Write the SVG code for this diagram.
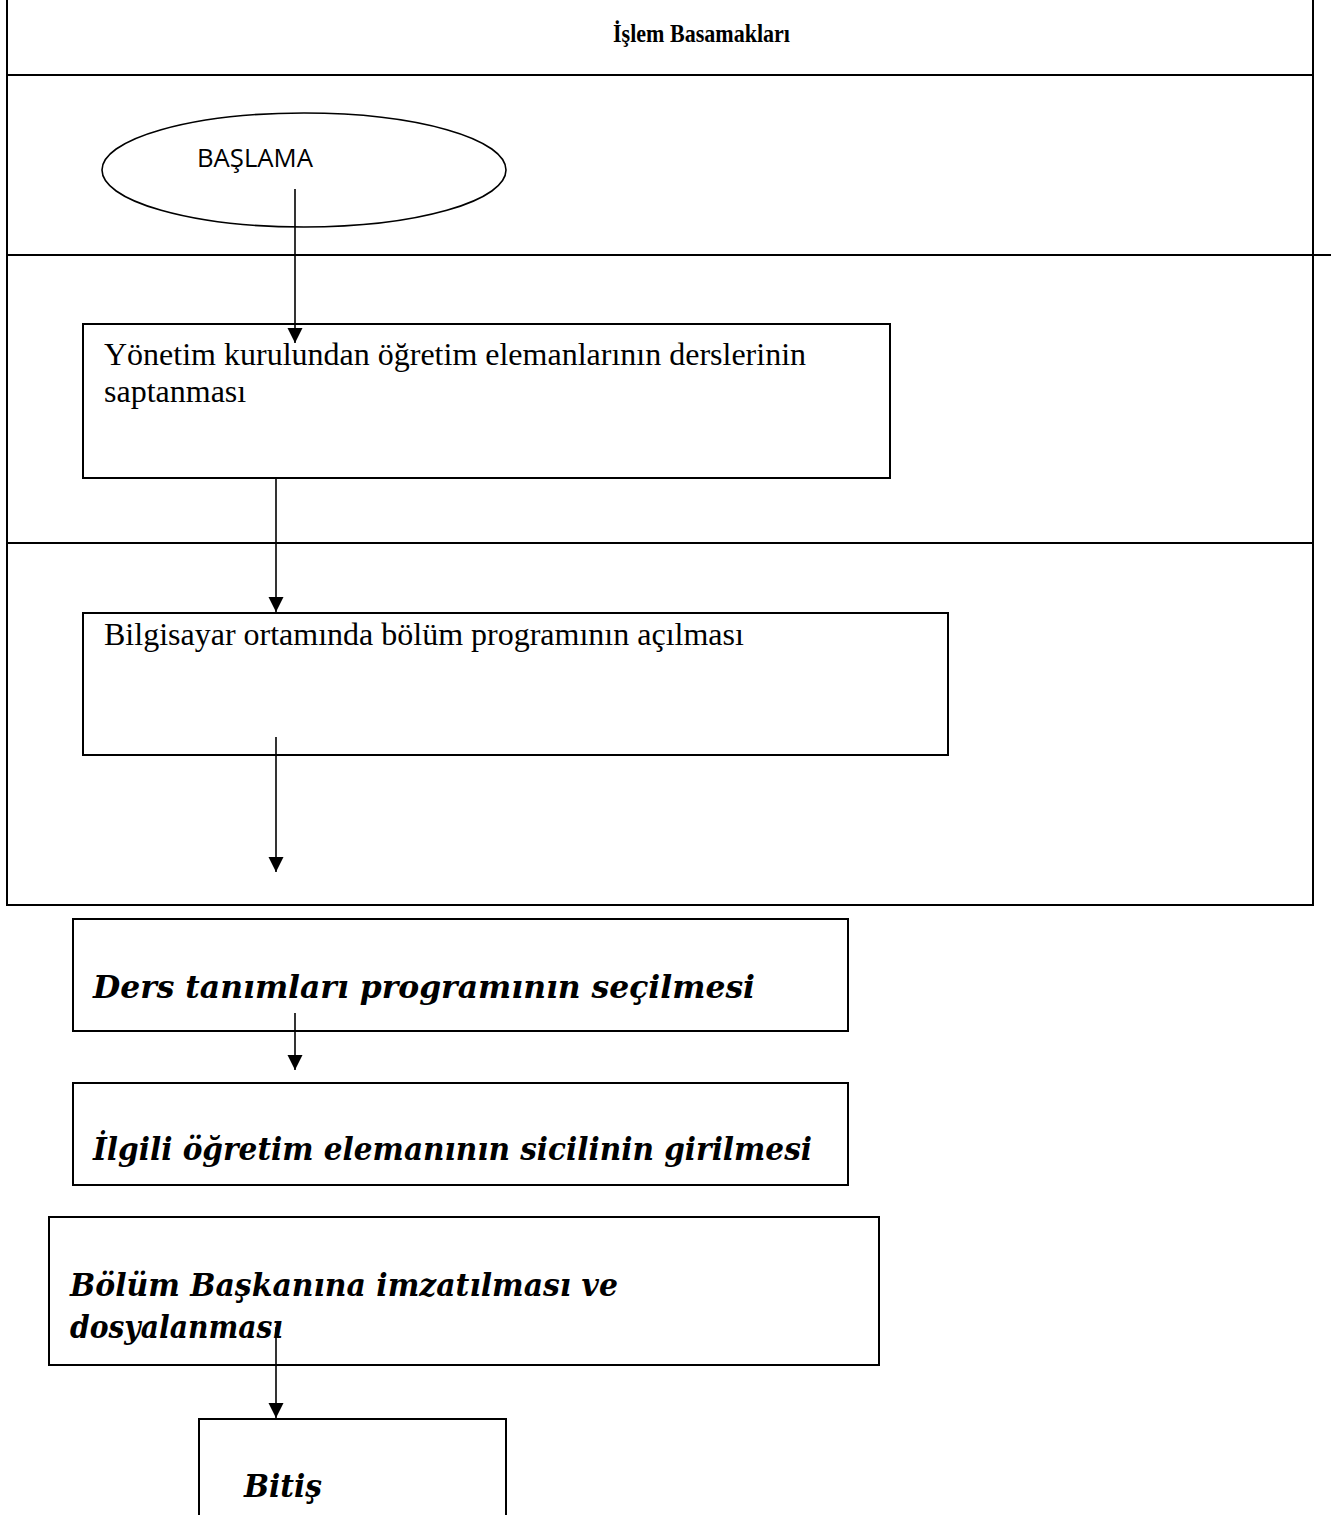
<svg xmlns="http://www.w3.org/2000/svg" width="1338" height="1515" viewBox="0 0 1338 1515">
<style>
.bg{fill:#ffffff}
.tbl{stroke:#000;stroke-width:2;fill:none}
.box{stroke:#000;stroke-width:2;fill:#ffffff}
.conn{stroke:#000;stroke-width:1.6;fill:none}
.hdr{font-family:"Liberation Serif","Times New Roman",serif;font-weight:bold;font-size:25px;fill:#000}
.sans{font-family:"Open Sans","Liberation Sans",sans-serif;font-size:25px;fill:#000}
.serif{font-family:"Liberation Serif","Times New Roman",serif;font-size:32px;fill:#000}
.bi{font-family:"DejaVu Serif","Liberation Serif",serif;font-weight:bold;font-style:italic;font-size:31px;fill:#000}
</style>
<defs>
<marker id="arrow" markerUnits="userSpaceOnUse" markerWidth="16" markerHeight="16" refX="15" refY="7.5" orient="auto">
<path d="M0,0 L15,7.5 L0,15 z" fill="#000"/>
</marker>
</defs>
<rect class="bg" x="0" y="0" width="1338" height="1515"/>

<g id="table">
<rect class="tbl" x="7" y="-3" width="1306" height="908"/>
<line class="tbl" x1="7" y1="75" x2="1313" y2="75"/>
<line class="tbl" x1="7" y1="255" x2="1331" y2="255"/>
<line class="tbl" x1="7" y1="543" x2="1313" y2="543"/>
<text class="hdr" x="613" y="42" textLength="177" lengthAdjust="spacingAndGlyphs">İşlem Basamakları</text>
</g>

<g id="start">
<ellipse cx="304" cy="170" rx="202" ry="57" fill="#ffffff" stroke="#000" stroke-width="1.6"/>
<text class="sans" x="197" y="167" textLength="116" lengthAdjust="spacingAndGlyphs">BAŞLAMA</text>
</g>

<g id="step1">
<rect class="box" x="83" y="324" width="807" height="154"/>
<text class="serif" x="104" y="365">Yönetim kurulundan öğretim elemanlarının derslerinin</text>
<text class="serif" x="104" y="402">saptanması</text>
</g>

<g id="step2">
<rect class="box" x="83" y="613" width="865" height="142"/>
<text class="serif" x="104" y="645">Bilgisayar ortamında bölüm programının açılması</text>
</g>

<g id="step3">
<rect class="box" x="73" y="919" width="775" height="112"/>
<text class="bi" x="93" y="998" textLength="662" lengthAdjust="spacingAndGlyphs">Ders tanımları programının seçilmesi</text>
</g>

<g id="step4">
<rect class="box" x="73" y="1083" width="775" height="102"/>
<text class="bi" x="93" y="1160" textLength="719" lengthAdjust="spacingAndGlyphs">İlgili öğretim elemanının sicilinin girilmesi</text>
</g>

<g id="step5">
<rect class="box" x="49" y="1217" width="830" height="148"/>
<text class="bi" x="70" y="1296" textLength="548" lengthAdjust="spacingAndGlyphs">Bölüm Başkanına imzatılması ve</text>
<text class="bi" x="70" y="1338" textLength="213" lengthAdjust="spacingAndGlyphs">dosyalanması</text>
</g>

<g id="end">
<rect class="box" x="199" y="1419" width="307" height="120"/>
<text class="bi" x="244" y="1497" textLength="78" lengthAdjust="spacingAndGlyphs">Bitiş</text>
</g>

<g id="connectors">
<line class="conn" x1="295" y1="189" x2="295" y2="343" marker-end="url(#arrow)"/>
<line class="conn" x1="276" y1="478" x2="276" y2="612" marker-end="url(#arrow)"/>
<line class="conn" x1="276" y1="737" x2="276" y2="872" marker-end="url(#arrow)"/>
<line class="conn" x1="295" y1="1013" x2="295" y2="1070" marker-end="url(#arrow)"/>
<line class="conn" x1="276" y1="1327" x2="276" y2="1418" marker-end="url(#arrow)"/>
</g>
</svg>
